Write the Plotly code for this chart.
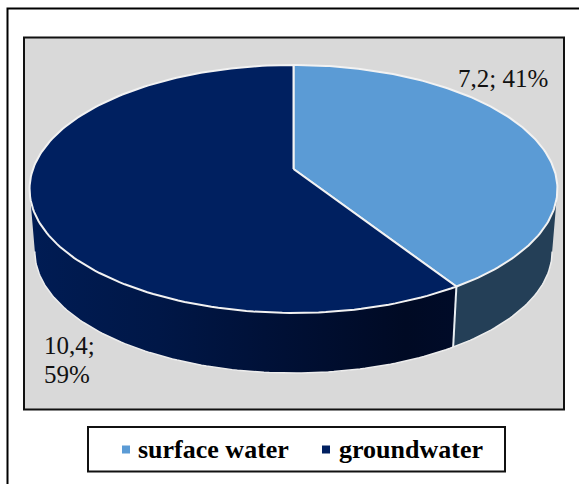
import numpy as np
import plotly.graph_objects as go

# Water withdrawal by source
categories = ["surface water", "groundwater"]
values = [7.2, 10.4]
value_labels = [["7,2; 41%"], ["10,4;", "59%"]]
colors = ["#5B9BD5", "#002060"]
side_colors = ["#243F57", "#001A4E"]

# Perspective disc placement, in page pixels
CX, CY = 293.5, 169.0
RX, K = 260.5, 0.161
RY = 120.8
DEPTH, REAR_SCALE = 63.0, 0.98

total = sum(values)
fractions = [v / total for v in values]
cuts = np.cumsum([0.0] + fractions) * 2 * np.pi


def rim(a0, a1, scale=1.0, drop=0.0, n=160):
    """Projected disc rim between two clockwise angles measured from 12 o'clock."""
    t = np.linspace(a0, a1, n)
    u, v = np.sin(t), np.cos(t)
    d = 1 + K * v
    return CX + scale * RX * u / d, CY + drop - scale * RY * v / d


fig = go.Figure()

# Side wall: only the part of the rim facing the viewer
front_start = np.pi / 2 + np.arcsin(K)
front_end = 3 * np.pi / 2 - np.arcsin(K)
side_ranges = [(front_start, cuts[1]), (cuts[1], front_end)]
# The groundwater wall runs left to right from navy into near black
wall_shades = [[0, "#001C54"], [0.3, "#001747"], [0.55, "#001138"], [0.88, "#000A24"], [1, "#000B28"]]
for i, (a0, a1) in enumerate(side_ranges):
    xt, yt = rim(a0, a1)
    xb, yb = rim(a0, a1, REAR_SCALE, DEPTH)
    xs = np.r_[xt, xb[::-1], xt[0]]
    ys = np.r_[yt, yb[::-1], yt[0]]
    if i == 0:
        style = dict(fillcolor=side_colors[i])
    else:
        style = dict(fillgradient=dict(type="horizontal", colorscale=wall_shades))
    fig.add_trace(go.Scatter(x=xs, y=ys, mode="lines", fill="toself",
                             line=dict(width=0, color=side_colors[i]),
                             showlegend=False, hoverinfo="skip", **style))

# White seam between the two wall sections, and a light outline below the wall
xt, yt = rim(cuts[1], cuts[1], n=1)
xb, yb = rim(cuts[1], cuts[1], REAR_SCALE, DEPTH, n=1)
fig.add_trace(go.Scatter(x=[xt[0], xb[0]], y=[yt[0], yb[0]], mode="lines",
                         line=dict(color="#E8EEF2", width=2),
                         showlegend=False, hoverinfo="skip"))
xb, yb = rim(front_start, front_end, REAR_SCALE, DEPTH)
fig.add_trace(go.Scatter(x=xb, y=yb, mode="lines", line=dict(color="#EDEDED", width=1.5),
                         showlegend=False, hoverinfo="skip"))

# Top face slices
for i in range(2):
    xr, yr = rim(cuts[i], cuts[i + 1])
    fig.add_trace(go.Scatter(x=np.r_[CX, xr, CX], y=np.r_[CY, yr, CY], mode="lines",
                             fill="toself", fillcolor=colors[i],
                             line=dict(color="#F2F2F2", width=2),
                             showlegend=False, hoverinfo="skip"))

# Key below the chart: swatch followed by its bold name
key_swatch_x = [126, 326]
key_text_x = [137, 338]
key_y = 449.5
for name, color, sx, tx in zip(categories, colors, key_swatch_x, key_text_x):
    fig.add_trace(go.Scatter(
        x=[sx], y=[key_y], mode="markers", name=name, showlegend=False,
        marker=dict(symbol="square", size=8, color=color), hoverinfo="name",
    ))
    fig.add_annotation(x=tx, y=key_y, text="<b>" + name + "</b>", showarrow=False, xanchor="left",
                       xshift=-1, font=dict(family="Liberation Serif", size=26, color="black"))

# Value labels
label_font = dict(family="Liberation Serif", size=25, color="#111111")
fig.add_annotation(x=503, y=78, text=value_labels[0][0], showarrow=False, font=label_font)
for line, y in zip(value_labels[1], [345, 374]):
    fig.add_annotation(x=42, y=y, text=line, showarrow=False, font=label_font, xanchor="left")

fig.update_layout(
    width=579, height=484,
    margin=dict(l=0, r=0, t=0, b=0),
    paper_bgcolor="white", plot_bgcolor="white",
    xaxis=dict(range=[0, 579], visible=False, fixedrange=True),
    yaxis=dict(range=[484, 0], visible=False, fixedrange=True),
    shapes=[
        dict(type="rect", x0=7.5, y0=8.5, x1=590, y1=500,
             line=dict(color="black", width=2), layer="below"),
        dict(type="rect", x0=24, y0=37.5, x1=564, y1=409.5,
             fillcolor="#D9D9D9", line=dict(color="#111111", width=2), layer="below"),
        dict(type="rect", x0=88, y0=427, x1=505, y1=471.5,
             fillcolor="white", line=dict(color="#111111", width=2), layer="below"),
    ],
    showlegend=False,
)

fig.write_html("out.html", config=dict(displayModeBar=False))
